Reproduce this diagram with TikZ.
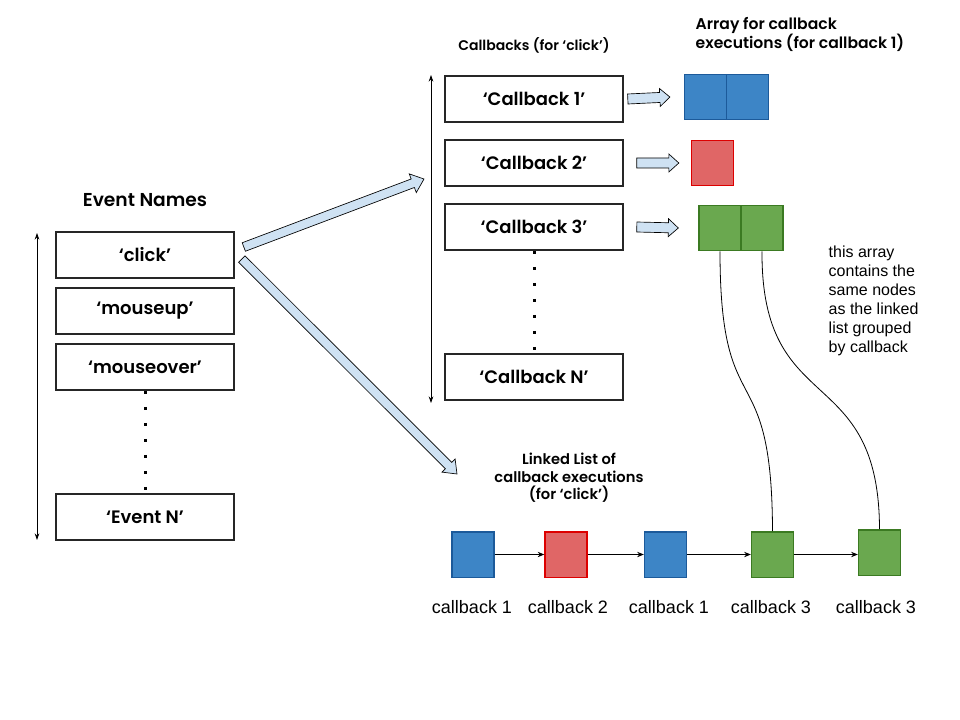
\documentclass[tikz,border=0pt]{standalone}
\usepackage{fontspec}
\setmainfont{Poppins}[UprightFont=* SemiBold]
\newfontfamily\arialfont{Liberation Sans}
\usetikzlibrary{calc,arrows.meta}
\definecolor{cbblue}{HTML}{3D85C6}
\definecolor{cbbluedark}{HTML}{1C5A9A}
\definecolor{cbred}{HTML}{E06666}
\definecolor{cbreddark}{HTML}{DD0000}
\definecolor{cbgreen}{HTML}{6AA84F}
\definecolor{cbgreendark}{HTML}{3B7A22}
\definecolor{arrowfill}{HTML}{CFE2F3}
\tikzstyle{namebox} = [rectangle, draw=black!85, line width=1.2pt, minimum width=133.5pt,
minimum height=34.5pt, inner sep=0pt, font=\fontsize{13.5}{15}\selectfont]
\tikzstyle{cell} = [rectangle, line width=1pt, minimum width=31.5pt, minimum height=34pt, inner sep=0pt]
\tikzstyle{bluecell} = [cell, fill=cbblue, draw=cbbluedark]
\tikzstyle{redcell} = [cell, fill=cbred, draw=cbreddark]
\tikzstyle{greencell} = [cell, fill=cbgreen, draw=cbgreendark]
\tikzstyle{blockarrow} = [draw=black, line width=0.5pt, fill=arrowfill, line join=miter]
\tikzstyle{arrow} = [line width=0.6pt, -{Stealth[length=5pt,width=4pt]}]
\tikzstyle{span} = [line width=0.6pt, {Stealth[length=5pt,width=3.5pt]}-{Stealth[length=5pt,width=3.5pt]}]
\tikzstyle{dotline} = [line width=2.25pt, dash pattern=on 2.25pt off 9.75pt]
\tikzstyle{lbl} = [font=\arialfont\fontsize{13.5}{16}\selectfont]
% block arrow: start, tip, shaft half width, head half width, head length
\newcommand{\blockarrow}[5]{%
  \path ($(#2)!#5!(#1)$) coordinate (bahead);
  \draw[blockarrow] ($(#1)!#3!90:(#2)$) -- ($(bahead)!#3!90:(#2)$) -- ($(bahead)!#4!90:(#2)$)
    -- (#2) -- ($(bahead)!#4!-90:(#2)$) -- ($(bahead)!#3!-90:(#2)$) -- ($(#1)!#3!-90:(#2)$) -- cycle;
}

\begin{document}
\begin{tikzpicture}[x=0.75pt, y=-0.75pt, node distance=42pt]
      \useasboundingbox (0,0) rectangle (960,720);

      % event names
      \node (evtitle) at (145,200) {\fontsize{14}{16}\selectfont Event Names};
      \node (click) [namebox] at (145,255) {‘click’};
      \node (mouseup) [namebox, below of=click] {‘mouseup’};
      \node (mouseover) [namebox, below of=mouseup] {‘mouseover’};
      \node (eventN) [namebox] at (145,517) {‘Event N’};
      \draw [dotline] (mouseover.south) -- (eventN.north);
      \coordinate (evtop) at (37,233);
      \coordinate (evbot) at (37,540);
      \draw [span] (evtop) -- (evbot);

      % callbacks
      \node (cbtitle) at (534,45) {\fontsize{10.5}{12}\selectfont Callbacks (for ‘click’)};
      \node (cb1) [namebox] at (534,99) {‘Callback 1’};
      \node (cb2) [namebox] at (534,163) {‘Callback 2’};
      \node (cb3) [namebox] at (534,227) {‘Callback 3’};
      \node (cbN) [namebox] at (534,377) {‘Callback N’};
      \draw [dotline] (cb3.south) -- (cbN.north);
      \coordinate (cbtop) at (431,75);
      \coordinate (cbbot) at (431,403);
      \draw [span] (cbtop) -- (cbbot);

      % arrays
      \node (arrtitle) [anchor=west, align=left, font=\fontsize{11.7}{14.25}\selectfont] at (691,34.5)
        {Array for callback\\executions (for callback 1)};
      \node (bl1) [bluecell] at (705.5,97) {};
      \node (bl2) [bluecell] at (747.5,97) {};
      \node (rd1) [redcell] at (712.5,163) {};
      \node (gr1) [greencell] at (720,228) {};
      \node (gr2) [greencell] at (762,228) {};
      \node (note) [anchor=west, align=left, font=\arialfont\fontsize{12}{14.25}\selectfont] at (824,300.5)
        {this array\\contains the\\same nodes\\as the linked\\list grouped\\by callback};

      % linked list
      \node (lltitle) [align=center, font=\fontsize{11}{13.1}\selectfont] at (569,478)
        {Linked List of\\callback executions\\(for ‘click’)};
      \node (ll1) [bluecell] at (473,554.5) {};
      \node (ll2) [redcell] at (566,554.5) {};
      \node (ll3) [bluecell] at (665.5,554.5) {};
      \node (ll4) [greencell] at (772.5,554.5) {};
      \node (ll5) [greencell] at (879.5,552.5) {};
      \node (lbl1) [lbl] at (472,607) {callback 1};
      \node (lbl2) [lbl] at (568,607) {callback 2};
      \node (lbl3) [lbl] at (669,607) {callback 1};
      \node (lbl4) [lbl] at (771,607) {callback 3};
      \node (lbl5) [lbl] at (876,607) {callback 3};

      \draw [arrow] (ll1) -- (ll2);
      \draw [arrow] (ll2) -- (ll3);
      \draw [arrow] (ll3) -- (ll4);
      \draw [arrow] (ll4.east) -- (ll4.east -| ll5.west);

      \draw [line width=0.6pt] (gr1.south) .. controls (720,430) and (772,350) .. (ll4.north);
      \draw [line width=0.6pt] (gr2.south) .. controls (761,420) and (879,360) .. (ll5.north);

      % block arrows
      \coordinate (a1s) at ($(cb1.east)+(4,0)$);
      \coordinate (a1t) at ($(bl1.west)+(-14,0)$);
      \coordinate (a2s) at ($(cb2.east)+(13,0)$);
      \coordinate (a2t) at ($(rd1.west)+(-12,0)$);
      \coordinate (a3s) at ($(cb3.east)+(13,0)$);
      \coordinate (a3t) at ($(gr1.west)+(-20,0)$);
      \blockarrow{a1s}{a1t}{3.75pt}{6.75pt}{7.5pt}
      \blockarrow{a2s}{a2t}{3.75pt}{6.75pt}{7.5pt}
      \blockarrow{a3s}{a3t}{3.75pt}{6.75pt}{7.5pt}
      \coordinate (toCbs) at ($(click.east)+(9,-8)$);
      \coordinate (toCbt) at (424,179);
      \coordinate (toLls) at ($(click.east)+(7,4)$);
      \coordinate (toLlt) at (457,474);
      \blockarrow{toCbs}{toCbt}{3.4pt}{7.5pt}{9pt}
      \blockarrow{toLls}{toLlt}{3.4pt}{7pt}{9pt}
    \end{tikzpicture}
\end{document}
